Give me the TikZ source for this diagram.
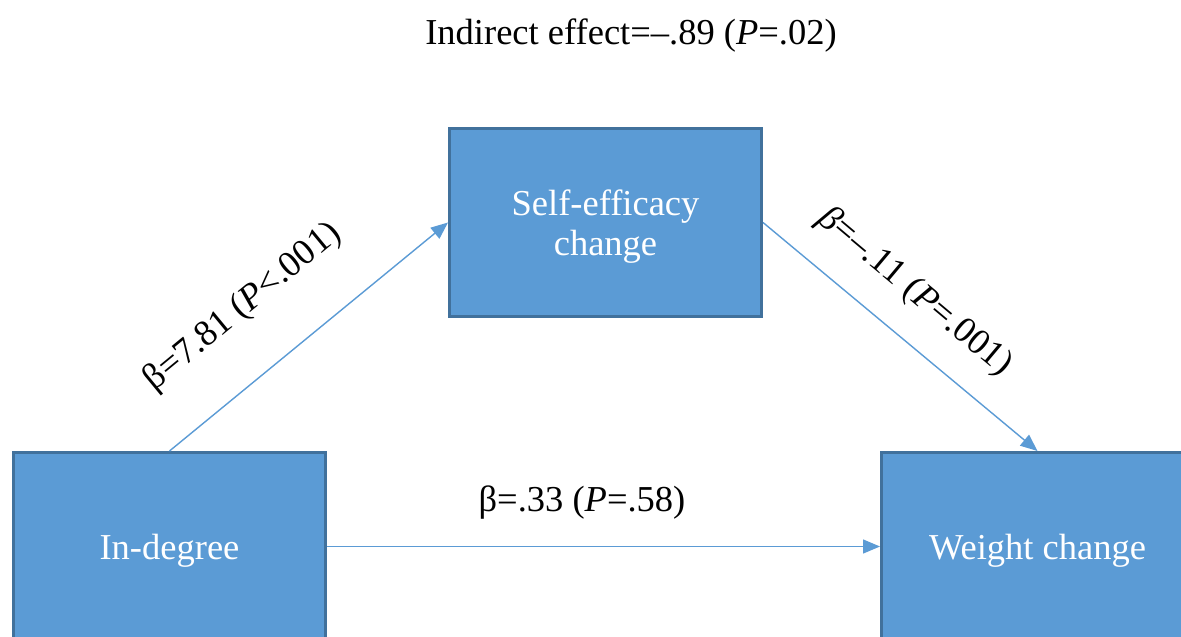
\documentclass[tikz,border=0pt]{standalone}
\usepackage{fontspec}
\setmainfont{Liberation Serif}
\usetikzlibrary{arrows.meta}
\definecolor{boxfill}{HTML}{5B9BD5}
\definecolor{boxline}{HTML}{41719C}
\begin{document}
\begin{tikzpicture}[x=1pt,y=-1pt,font=\fontsize{36.5}{40}\selectfont]
\tikzset{
  varbox/.style={draw=boxline,line width=3pt,fill=boxfill,text=white,minimum width=312pt,minimum height=188pt,inner sep=0pt,align=center,text depth=0pt},
  conn/.style={draw=boxfill,line width=1.4pt,-{Triangle[length=17pt,width=14pt]}},
  lbl/.style={text=black,inner sep=0pt}
}
\useasboundingbox (0,0) rectangle (1181,637);
\fill[white] (0,0) rectangle (1181,637);
\clip (0,0) rectangle (1181,637);
\node[varbox] (self) at (605.5,222.5) {Self-efficacy\\change};
\node[varbox] (indeg) at (169.5,546.5) {In-degree};
\node[varbox] (weight) at (1037.5,546.5) {Weight change};
\draw[conn] (indeg.north) -- (self.west);
\draw[conn] (self.east) -- (weight.north);
\draw[conn] (indeg.east) -- (weight.west);
\node[lbl,rotate=39.5] (l1) at (243,307) {β=7.81 (\textit{P}<.001)};
\node[lbl,rotate=-40] (l2) at (915,292) {\textit{β}=–.11 (\textit{P}=.001)};
\node[lbl] (l3) at (582,503) {β=.33 (\textit{P}=.58)};
\node[lbl] (top) at (631,36) {Indirect effect=–.89 (\textit{P}=.02)};
\end{tikzpicture}
\end{document}
